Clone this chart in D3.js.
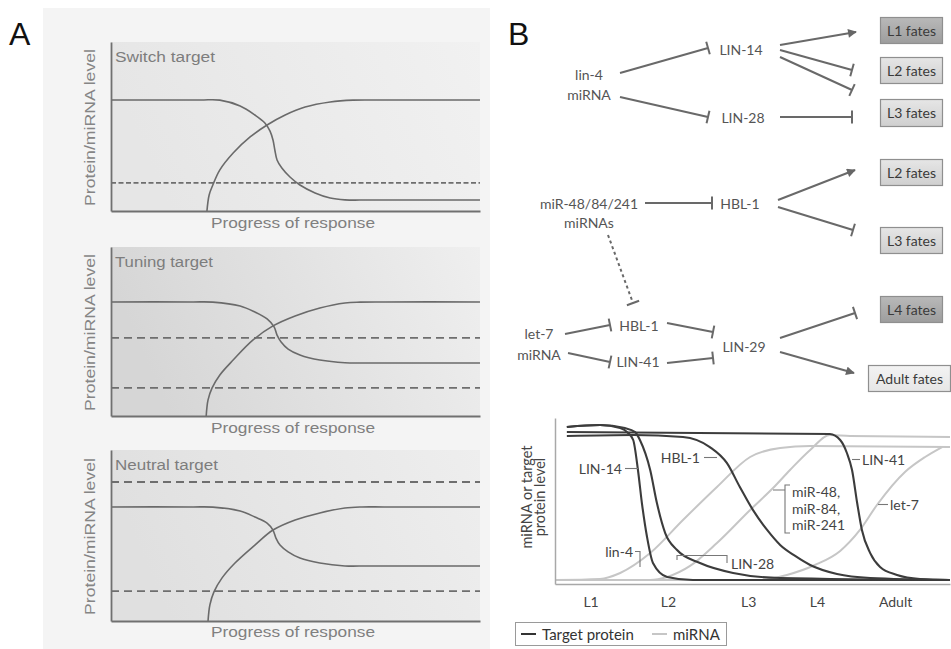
<!DOCTYPE html>
<html><head><meta charset="utf-8">
<script src="https://cdn.jsdelivr.net/npm/d3@7"></script>
<style>body{margin:0;background:#fff}svg{display:block}</style>
</head><body>
<svg id="c" width="951" height="649"></svg>
<script>
// ================= DATA =================
// Panel A: x = progress of response (0-100), y = protein/miRNA level (0-100)
const panelATitles = ["Switch target", "Tuning target", "Neutral target"];
const panelAXLabel = "Progress of response";
const panelAYLabel = "Protein/miRNA level";

const switchProtein = [[0,65.7],[24.1,65.7],[29.5,65.6],[35.0,62.1],[39.0,56.8],[41.7,52.1],[43.1,47.3],[43.9,42.0],[44.4,36.1],[45.0,30.2],[46.3,25.4],[48.5,20.1],[51.2,15.4],[55.3,10.7],[59.4,7.7],[63.4,6.6],[70,6.5],[100,6.5]];
const switchMiRNA   = [[26.0,0],[26.6,9.5],[27.6,15.4],[29.5,24.3],[33.1,34.3],[37.7,43.8],[42.3,50.9],[47.2,56.8],[52.6,61.5],[59.4,64.5],[65.6,65.6],[72,65.7],[100,65.7]];
const switchDashed  = [16.6];

const tuningProtein = [[0,67.5],[22,67.5],[27.6,67.4],[35.0,65.1],[39.0,61.5],[42.3,57.4],[44.2,52.7],[45.0,47.9],[46.1,43.8],[48.0,39.6],[51.2,36.1],[56.6,33.1],[63.4,31.5],[70,31.4],[100,31.4]];
const tuningMiRNA   = [[25.8,0],[26.3,9.5],[27.4,16.6],[29.5,24.3],[33.1,33.1],[38.5,45.0],[43.9,53.3],[49.9,59.2],[56.6,63.9],[63.4,66.9],[67.5,67.4],[74,67.5],[100,67.5]];
const tuningDashed  = [46.2, 16.6];

const neutralProtein = [[0,66.7],[22,66.7],[27.6,66.6],[35.0,64.3],[39.0,60.8],[42.3,57.3],[43.9,53.2],[44.7,48.5],[45.8,44.4],[48.0,40.4],[51.2,36.8],[56.6,33.9],[63.4,32.2],[70,32.2],[100,32.2]];
const neutralMiRNA   = [[26.3,0],[26.8,9.4],[27.9,17.0],[30.1,25.2],[33.6,33.9],[39.0,44.4],[43.9,53.2],[49.9,59.1],[56.6,63.2],[63.4,66.1],[68.0,66.7],[74,66.7],[100,66.7]];
const neutralDashed  = [81.3, 17.5];

// Panel B diagram
const diagramNodes = [["lin-4","miRNA"],["LIN-14"],["LIN-28"],["miR-48/84/241","miRNAs"],["HBL-1"],["let-7","miRNA"],["HBL-1"],["LIN-41"],["LIN-29"]];
const fateLabels = ["L1 fates","L2 fates","L3 fates","L2 fates","L3 fates","L4 fates","Adult fates"];
const fateShades = ["dark","light","light","light","light","dark","pale"];
const edgeTypes = ["inhibit","inhibit","activate","inhibit","inhibit","inhibit","inhibit","activate","inhibit","inhibit-dashed","inhibit","inhibit","inhibit","inhibit","inhibit","activate"];

// Panel B chart: x = developmental time (0-100), y = relative level (0-1)
const stageLabels = ["L1","L2","L3","L4","Adult"];
const stageTimes  = [9, 28.6, 48.9, 66.3, 86.1];
const lin14  = [[3.0,1.0],[11.4,1.013],[16.5,0.993],[18.5,0.961],[19.8,0.915],[21.0,0.719],[22.0,0.503],[23.3,0.281],[24.8,0.111],[28.4,0.02],[34.9,0],[100,0]];
const lin28  = [[3.0,1.0],[11.4,1.013],[17.7,0.993],[20.3,0.967],[21.5,0.915],[24.1,0.719],[25.8,0.503],[27.9,0.307],[30.9,0.196],[36.7,0.111],[45.1,0.046],[57.0,0.013],[100,0]];
const hbl1   = [[3.0,0.941],[19.8,0.948],[32.4,0.935],[39.2,0.869],[43.5,0.765],[46.8,0.608],[50.1,0.458],[53.7,0.327],[57.0,0.229],[60.8,0.157],[64.6,0.098],[71.4,0.039],[79.8,0.013],[100,0]];
const lin41  = [[3.0,0.967],[69.6,0.954],[72.2,0.915],[73.9,0.83],[75.2,0.719],[76.5,0.503],[77.7,0.327],[79.8,0.176],[82.3,0.085],[86.6,0.033],[92.4,0.007],[100,0]];
const lin4   = [[0,0],[11.4,0.007],[16.5,0.046],[24.1,0.176],[32.4,0.392],[41.0,0.608],[49.4,0.804],[57.0,0.863],[64.6,0.876],[100,0.869]];
const mir48  = [[0,0],[24.1,0],[28.4,0.02],[34.2,0.092],[41.0,0.242],[49.4,0.458],[55.2,0.601],[59.5,0.719],[64.6,0.85],[69.6,0.948],[74.7,0.941],[100,0.935]];
const let7   = [[0,0],[51.9,0],[58.7,0.033],[65.8,0.098],[72.2,0.19],[77.2,0.327],[81.5,0.49],[88.6,0.706],[93.7,0.804],[98.0,0.869]];
const proteinCurves = [lin14, lin28, hbl1, lin41];
const mirnaCurves = [lin4, mir48, let7];
const curveLabels = ["LIN-14","HBL-1","lin-4","LIN-28","LIN-41","let-7"];
const mirGroupLabel = ["miR-48,","miR-84,","miR-241"];
const legendLabels = ["Target protein","miRNA"];
const chartYLabel = ["miRNA or target","protein level"];

// ================= LAYOUT =================
const svg = d3.select("#c");
const defs = svg.append("defs");
const fontA = "'Liberation Sans', Arial, sans-serif";
const fontB = "Lato, 'Open Sans', sans-serif";

// ---------- Panel A ----------
svg.append("rect").attr("x",43).attr("y",8).attr("width",447).attr("height",641).attr("fill","#f4f4f4");
svg.append("text").attr("x",9).attr("y",45).attr("font-family",fontA).attr("font-size",32).attr("fill","#111").text("A");

const panelA = [
  {protein: switchProtein, mirna: switchMiRNA, dashed: switchDashed, top: 42, bottom: 211, dash: "5,2.5", grad: ["#e6e6e6","#f1f1f1"], xl: 228},
  {protein: tuningProtein, mirna: tuningMiRNA, dashed: tuningDashed, top: 247, bottom: 416, dash: "8,5", grad: ["#d6d6d6","#efefef"], xl: 433},
  {protein: neutralProtein, mirna: neutralMiRNA, dashed: neutralDashed, top: 450, bottom: 621, dash: "8,5", grad: ["#e0e0e0","#eeeeee"], xl: 637}
];
const xA = d3.scaleLinear().domain([0,100]).range([111,480]);
panelA.forEach((p,i) => {
  const y = d3.scaleLinear().domain([0,100]).range([p.bottom, p.top]);
  const gid = "gA"+i;
  const lg = defs.append("linearGradient").attr("id",gid).attr("x1",0).attr("x2",1).attr("y1",0.2).attr("y2",0);
  lg.append("stop").attr("offset","0%").attr("stop-color",p.grad[0]);
  lg.append("stop").attr("offset","100%").attr("stop-color",p.grad[1]);
  const g = svg.append("g");
  g.append("rect").attr("x",xA(0)).attr("y",y(100)).attr("width",xA(100)-xA(0)).attr("height",y(0)-y(100)).attr("fill",`url(#${gid})`);
  g.selectAll(".dash").data(p.dashed).join("line")
    .attr("x1",xA(0)).attr("x2",xA(100)).attr("y1",d=>y(d)).attr("y2",d=>y(d))
    .attr("stroke","#6e6e6e").attr("stroke-width",1.8).attr("stroke-dasharray",p.dash);
  const line = d3.line().x(d=>xA(d[0])).y(d=>y(d[1])).curve(d3.curveCatmullRom.alpha(0.5));
  g.selectAll(".crv").data([p.protein, p.mirna]).join("path")
    .attr("d",line).attr("fill","none").attr("stroke","#6a6a6a").attr("stroke-width",1.6);
  const ax = g.append("g").attr("transform",`translate(${xA(0)},0)`).call(d3.axisLeft(y).tickValues([]).tickSizeOuter(0));
  const bx = g.append("g").attr("transform",`translate(0,${p.bottom})`).call(d3.axisBottom(xA).tickValues([]).tickSizeOuter(0));
  [ax,bx].forEach(a => a.select(".domain").attr("stroke","#707070").attr("stroke-width",1.8));
  g.append("text").attr("x",115).attr("y",p.top+20).attr("font-family",fontA).attr("font-size",14)
    .attr("fill","#7d7d7d").attr("textLength", i===2?103:(i===1?98:100)).attr("lengthAdjust","spacingAndGlyphs").text(panelATitles[i]);
  g.append("text").attr("x",293).attr("y",p.xl).attr("text-anchor","middle").attr("font-family",fontA).attr("font-size",15)
    .attr("fill","#808080").attr("textLength",164).attr("lengthAdjust","spacingAndGlyphs").text(panelAXLabel);
  const cy = (p.top + p.bottom)/2 + 1;
  g.append("text").attr("transform",`translate(95,${cy}) rotate(-90)`).attr("text-anchor","middle")
    .attr("font-family",fontA).attr("font-size",15).attr("fill","#858585")
    .attr("textLength",157).attr("lengthAdjust","spacingAndGlyphs").text(panelAYLabel);
});

// ---------- Panel B: diagram ----------
svg.append("text").attr("x",508).attr("y",45).attr("font-family",fontA).attr("font-size",32).attr("fill","#111").text("B");

const nodeLayout = [
  {x:589, y:[80,100]}, {x:741, y:[55]}, {x:743, y:[123]},
  {x:589, y:[209,228]}, {x:740, y:[209]},
  {x:539, y:[339,360]}, {x:639, y:[331]}, {x:638, y:[367]}, {x:744, y:[352]}
];
const gN = svg.append("g").attr("font-family",fontB).attr("font-size",14).attr("fill","#555");
diagramNodes.forEach((lines,i) => {
  lines.forEach((t,j) => {
    gN.append("text").attr("x",nodeLayout[i].x).attr("y",nodeLayout[i].y[j]).attr("text-anchor","middle").text(t);
  });
});

const edgeLayout = [
  [620,73,708,48],[620,97,708,117],[780,45,856,32],[780,50,852,70],[780,57,852,90],[780,117,852,117],
  [645,203,712,203],[778,200,855,170],[778,207,853,230],[608,235,633,303],
  [565,334,610,325],[568,353,610,362],[667,323,713,332],[667,363,713,358],
  [780,338,855,313],[780,352,854,373]
];
defs.append("marker").attr("id","arr").attr("viewBox","0 0 10 10").attr("refX",9).attr("refY",5)
  .attr("markerWidth",5).attr("markerHeight",4.4).attr("markerUnits","strokeWidth").attr("orient","auto")
  .append("path").attr("d","M0,0L10,5L0,10z").attr("fill","#666");
const gE = svg.append("g").attr("stroke","#696969").attr("stroke-width",2).attr("fill","none");
edgeTypes.forEach((t,i) => {
  const [x1,y1,x2,y2] = edgeLayout[i];
  const dx = x2-x1, dy = y2-y1, L = Math.hypot(dx,dy);
  const ux = dx/L, uy = dy/L;
  if (t === "activate") {
    gE.append("line").attr("x1",x1).attr("y1",y1).attr("x2",x2).attr("y2",y2).attr("marker-end","url(#arr)");
  } else {
    const ln = gE.append("line").attr("x1",x1).attr("y1",y1).attr("x2",x2).attr("y2",y2);
    if (t === "inhibit-dashed") ln.attr("stroke-dasharray","3,3");
    const h = 6.5;
    gE.append("line").attr("x1",x2 - uy*h).attr("y1",y2 + ux*h).attr("x2",x2 + uy*h).attr("y2",y2 - ux*h);
  }
});

const fateLayout = [[880,17,63,26],[880,57,63,26],[880,99,63,27],[880,159,63,26],[880,227,63,26],[880,296,63,26],[868,365,83,26]];
const shadeGrad = {dark:["#b9b9b9","#9d9d9d"], light:["#e6e6e6","#cfcfcf"], pale:["#f3f3f3","#e6e6e6"]};
Object.entries(shadeGrad).forEach(([k,c]) => {
  const lg = defs.append("linearGradient").attr("id","fg_"+k).attr("x1",0).attr("x2",0).attr("y1",0).attr("y2",1);
  lg.append("stop").attr("offset","0%").attr("stop-color",c[0]);
  lg.append("stop").attr("offset","100%").attr("stop-color",c[1]);
});
const gF = svg.append("g");
fateLabels.forEach((lab,i) => {
  const [x,y,w,h] = fateLayout[i];
  gF.append("rect").attr("x",x+0.5).attr("y",y+0.5).attr("width",w-1).attr("height",h)
    .attr("fill",`url(#fg_${fateShades[i]})`).attr("stroke","#8f8f8f").attr("stroke-width",1.2);
  gF.append("text").attr("x",x+w/2).attr("y",y+h/2+5.5).attr("text-anchor","middle")
    .attr("font-family",fontB).attr("font-size",14).attr("fill","#3a3a3a").text(lab);
});

// ---------- Panel B: chart ----------
const xB = d3.scaleLinear().domain([0,100]).range([555,950]);
const yB = d3.scaleLinear().domain([0,1]).range([580,427]);
const yFrame = d3.scaleLinear().domain([0,1]).range([584,418]);
const gC = svg.append("g");
const lineB = d3.line().x(d=>xB(d[0])).y(d=>yB(d[1])).curve(d3.curveMonotoneX);

gC.selectAll(".mir").data(mirnaCurves).join("path").attr("d",lineB)
  .attr("fill","none").attr("stroke","#c6c6c6").attr("stroke-width",2);
gC.selectAll(".prot").data(proteinCurves).join("path").attr("d",lineB)
  .attr("fill","none").attr("stroke","#3c3c3c").attr("stroke-width",2.1);

const axY = gC.append("g").attr("transform","translate(555,0)").call(d3.axisLeft(yFrame).tickValues([]).tickSizeOuter(0));
axY.select(".domain").attr("stroke","#a8a8a8").attr("stroke-width",1.5);
const axX = gC.append("g").attr("transform","translate(0,584)")
  .call(d3.axisBottom(xB).tickValues(stageTimes).tickFormat((d,i)=>stageLabels[i]).tickSize(0).tickPadding(13).tickSizeOuter(0));
axX.select(".domain").attr("stroke","#a8a8a8").attr("stroke-width",1.5);
axX.selectAll("text").attr("font-family",fontB).attr("font-size",14).attr("fill","#444");

chartYLabel.forEach((t,i) => {
  gC.append("text").attr("transform",`translate(${532+i*13},497) rotate(-90)`).attr("text-anchor","middle")
    .attr("font-family",fontB).attr("font-size",14.5).attr("fill","#444").text(t);
});

// curve labels and leader lines
const gL = svg.append("g").attr("font-family",fontB).attr("font-size",14).attr("fill","#444");
const leaderLayout = [
  {tx:622, ty:474, anchor:"end",   path:"M625,468.5H638"},
  {tx:700, ty:463, anchor:"end",   path:"M704,457.5H717"},
  {tx:633, ty:557, anchor:"end",   path:"M635,551.5H640V567"},
  {tx:731, ty:569, anchor:"start", path:"M677,560V555.5H727V563"},
  {tx:862, ty:465, anchor:"start", path:"M852,459.5H860"},
  {tx:890, ty:510, anchor:"start", path:"M878,504.5H888"}
];
curveLabels.forEach((lab,i) => {
  const L = leaderLayout[i];
  gL.append("path").attr("d",L.path).attr("fill","none").attr("stroke","#777").attr("stroke-width",1.1);
  gL.append("text").attr("x",L.tx).attr("y",L.ty).attr("text-anchor",L.anchor).text(lab);
});
gL.append("path").attr("d","M773,490H785M790,485H785V533H790").attr("fill","none").attr("stroke","#777").attr("stroke-width",1.1);
mirGroupLabel.forEach((t,i) => {
  gL.append("text").attr("x",792).attr("y",497+i*16.5).text(t);
});

// legend
const gLeg = svg.append("g");
gLeg.append("rect").attr("x",515.5).attr("y",622.5).attr("width",211).attr("height",23).attr("fill","#fff").attr("stroke","#9a9a9a").attr("stroke-width",1);
gLeg.append("line").attr("x1",521).attr("x2",536).attr("y1",634).attr("y2",634).attr("stroke","#333").attr("stroke-width",2);
gLeg.append("line").attr("x1",652).attr("x2",667).attr("y1",634).attr("y2",634).attr("stroke","#c6c6c6").attr("stroke-width",2);
gLeg.append("text").attr("x",542).attr("y",639.5).attr("font-family",fontB).attr("font-size",15).attr("fill","#333").text(legendLabels[0]);
gLeg.append("text").attr("x",673).attr("y",639.5).attr("font-family",fontB).attr("font-size",15).attr("fill","#333").text(legendLabels[1]);
</script>
</body></html>
